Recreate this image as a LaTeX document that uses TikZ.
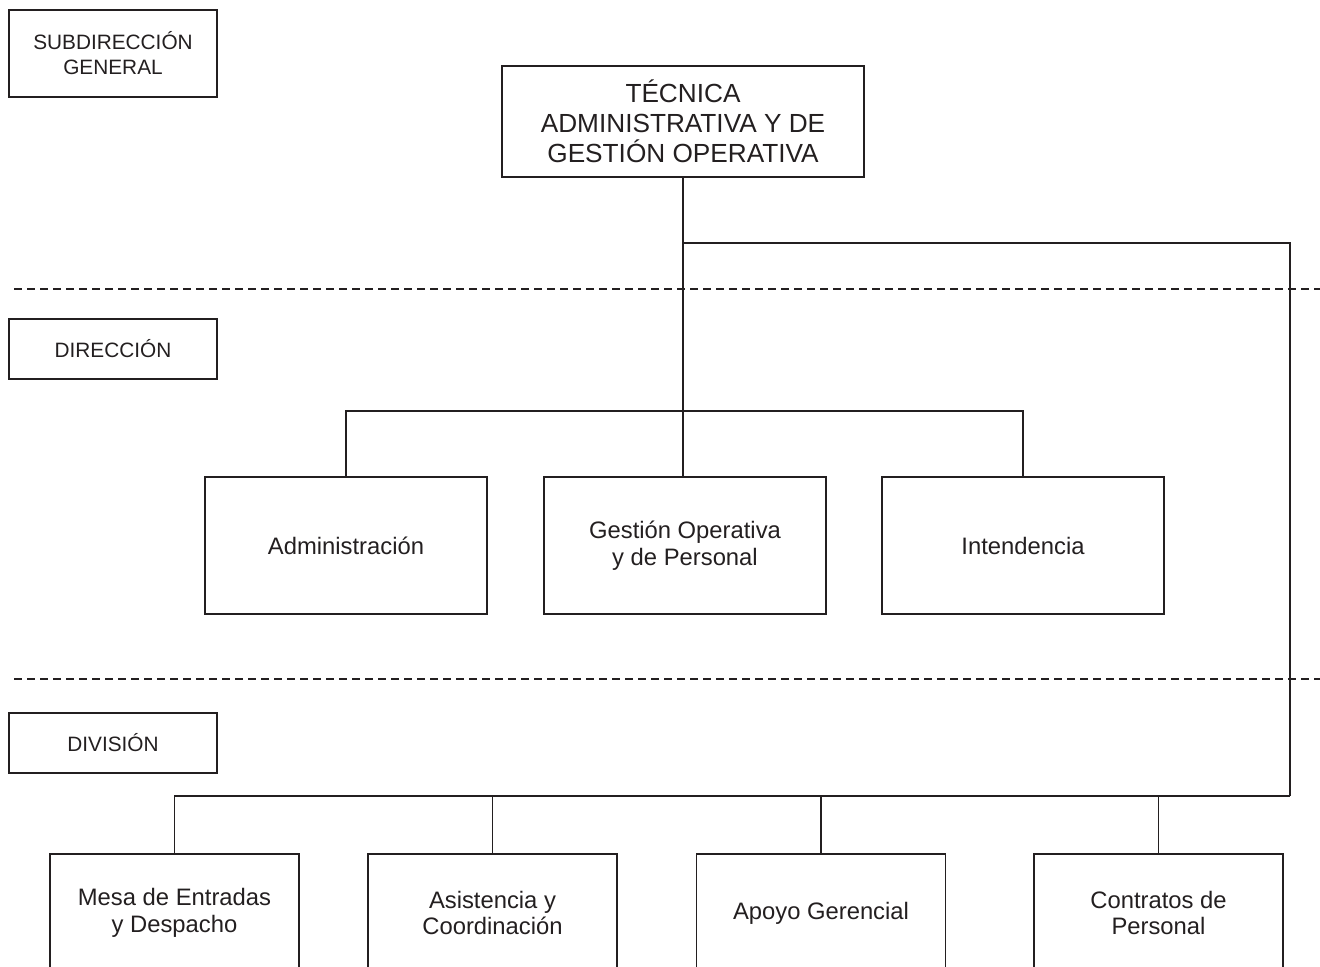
\documentclass[tikz,border=0pt]{standalone}
\usepackage{fontspec}
\setmainfont{Liberation Sans}
\usepackage{tikz}
\definecolor{ink}{HTML}{231F20}

\tikzset{
  unit/.style={draw=ink, line width=0.8pt, text=ink, align=center, inner sep=0pt},
  levelbox/.style={unit, minimum width=104pt, font=\fontsize{10.4}{12.5}\selectfont},
  mainbox/.style={unit, minimum width=141pt, minimum height=68.5pt, font=\fontsize{11.9}{13.3}\selectfont},
  lowbox/.style={unit, minimum width=124.5pt, minimum height=59pt, font=\fontsize{11.9}{13.3}\selectfont},
  link/.style={draw=ink, line width=0.8pt},
  levelsep/.style={draw=ink, line width=0.6pt, dash pattern=on 4pt off 2.5pt}
}

\begin{document}
\begin{tikzpicture}[x=0.5pt, y=-0.5pt]
    \useasboundingbox (0,0) rectangle (1320,967);

    % niveles
    \node[levelbox, minimum height=43.5pt] (sub) at (113,53.5) {SUBDIRECCIÓN\\GENERAL};
    \node[levelbox, minimum height=30pt] (dir) at (113,349) {DIRECCIÓN};
    \node[levelbox, minimum height=30pt] (div) at (113,743) {DIVISIÓN};
    \draw[levelsep] (14,289) -- (1320,289);
    \draw[levelsep] (14,679) -- (1320,679);

    % cabecera
    \node[unit, minimum width=181pt, minimum height=55.5pt,
      font=\fontsize{13.1}{15}\selectfont] (tec) at (683,121.5)
      {TÉCNICA\\ADMINISTRATIVA Y DE\\GESTIÓN OPERATIVA};

    % direcciones
    \node[mainbox] (adm) at (346,545.5) {Administración};
    \node[mainbox] (gop) at (685,545.5) {Gestión Operativa\\y de Personal};
    \node[mainbox] (ind) at (1023,545.5) {Intendencia};

    % divisiones
    \node[lowbox] (mesa) at (174.5,913) {Mesa de Entradas\\y Despacho};
    \node[lowbox] (asis) at (492.5,913) {Asistencia y\\Coordinación};
    \node[lowbox] (apoyo) at (821,913) {Apoyo Gerencial};
    \node[lowbox] (contr) at (1158.5,913) {Contratos de\\Personal};

    \coordinate (jn) at (tec.south |- 0,243);
    \coordinate (mbus) at (tec.south |- 0,411);
    \coordinate (busR) at (1290,796);

    \draw[link] (tec.south) -- (tec.south |- gop.north);
    \draw[link] (adm.north) |- (mbus) -| (ind.north);
    \draw[link] (jn) -| (busR);
    \draw[link] (mesa.north) |- (busR);
    \draw[link] (asis.north) -- (asis.north |- busR);
    \draw[link] (apoyo.north) -- (apoyo.north |- busR);
    \draw[link] (contr.north) -- (contr.north |- busR);
\end{tikzpicture}
\end{document}
